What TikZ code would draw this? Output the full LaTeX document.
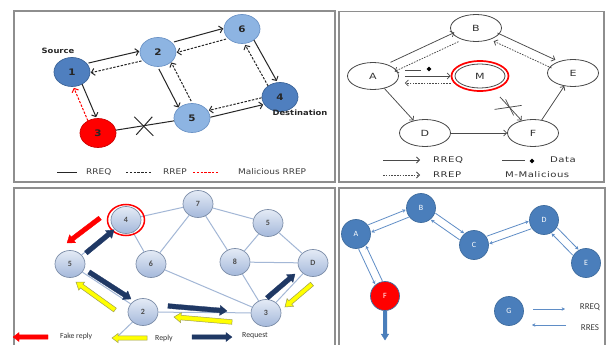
\documentclass[tikz,border=0pt]{standalone}
\usepackage{fontspec}
\usetikzlibrary{arrows.meta,calc,shapes.geometric}
\newfontfamily\tlfont[FakeStretch=1.15]{DejaVu Sans}
\newfontfamily\trfont[FakeStretch=1.3,LetterSpace=6]{DejaVu Sans}
\newfontfamily\lowfont{Carlito}

\definecolor{framegray}{HTML}{8E8E8E}
\definecolor{ink}{HTML}{262626}
\definecolor{legendtxt}{HTML}{3C3C3C}
\definecolor{nodedark}{HTML}{4F7FBF}
\definecolor{nodedarkrim}{HTML}{3A6398}
\definecolor{nodelight}{HTML}{8DB4E2}
\definecolor{nodelightrim}{HTML}{6B93C6}
\definecolor{alarm}{HTML}{FF0000}
\definecolor{trrim}{HTML}{4A4A4A}
\definecolor{trtext}{HTML}{333333}
\definecolor{ballTop}{HTML}{E4EBF6}
\definecolor{ballBot}{HTML}{A4B8DA}
\definecolor{ballrim}{HTML}{7C8DA8}
\definecolor{meshline}{HTML}{A3B7D6}
\definecolor{navy}{HTML}{1F3864}
\definecolor{replyfill}{HTML}{FFFF00}
\definecolor{replyrim}{HTML}{9E9E55}
\definecolor{steel}{HTML}{4A7EBB}
\definecolor{steelrim}{HTML}{3F6D9F}
\definecolor{steelline}{HTML}{5F8DC6}

% two parallel opposite links between nodes #3 and #4:
% #1 gap from the centre line, #2 side (90 or -90) of the forward link
\newcommand\twoway[6]{%
  \draw[#5,transform canvas={shift={($(#3)!#1!#2:(#4)-(#3)$)}}] (#3) -- (#4);
  \draw[#6,transform canvas={shift={($(#3)-(#3)!#1!#2:(#4)$)}}] (#4) -- (#3);}

% filled block arrow from coordinate #2 to coordinate #3
% #4 half shaft width, #5 half head width, #6 head length
\makeatletter
\newcommand\fatarrow[6]{%
  \pgfmathanglebetweenpoints{\pgfpointanchor{#2}{center}}{\pgfpointanchor{#3}{center}}%
  \edef\faang{\pgfmathresult}%
  \pgfpointdiff{\pgfpointanchor{#2}{center}}{\pgfpointanchor{#3}{center}}%
  \edef\fadx{\the\pgf@x}\edef\fady{\the\pgf@y}%
  \pgfmathveclen{\fadx}{\fady}%
  \edef\falen{\pgfmathresult}%
  \filldraw[#1,shift={(#2)},rotate=\faang]
    (0pt,-#4) -- (\falen pt-#6,-#4) -- (\falen pt-#6,-#5) -- (\falen pt,0pt)
    -- (\falen pt-#6,#5) -- (\falen pt-#6,#4) -- (0pt,#4) -- cycle;}
\makeatother

\tikzset{
  panel/.style={draw=framegray,line width=1.4pt},
  % upper left network
  tlnode/.style={ellipse,minimum width=36pt,minimum height=29pt,inner sep=0pt,
    line width=0.7pt,font=\tlfont\bfseries\fontsize{9}{9}\selectfont,text=black!85},
  tldarknode/.style={tlnode,fill=nodedark,draw=nodedarkrim},
  tllightnode/.style={tlnode,fill=nodelight,draw=nodelightrim},
  tlrednode/.style={tlnode,fill=alarm,draw=alarm!80!black},
  tlplain/.style={draw=ink,line width=1pt},
  tlreq/.style={tlplain,-{Straight Barb[length=3.2pt,width=7pt]}},
  tlrep/.style={tlreq,dash pattern=on 2.4pt off 1.4pt},
  tlmal/.style={tlrep,draw=alarm},
  tllabel/.style={font=\tlfont\bfseries\fontsize{7.3}{7.3}\selectfont,text=black!85,inner sep=0pt},
  tlkey/.style={font=\tlfont\fontsize{7.8}{7.8}\selectfont,text=legendtxt,inner sep=0pt,anchor=west},
  % upper right network
  trnode/.style={ellipse,minimum width=51pt,minimum height=27pt,inner sep=0pt,
    draw=trrim,fill=white,line width=0.8pt,font=\trfont\fontsize{8.5}{8.5}\selectfont,text=trtext},
  trplain/.style={draw=trrim,line width=0.75pt},
  trreq/.style={trplain,-{Straight Barb[length=3pt,width=6pt]}},
  trrep/.style={trreq,dash pattern=on 1.6pt off 1.2pt},
  trkey/.style={font=\trfont\fontsize{7.8}{7.8}\selectfont,text=trtext,inner sep=0pt,anchor=west},
  % lower left network
  ball/.style={ellipse,minimum width=30pt,minimum height=27pt,inner sep=0pt,
    top color=ballTop,bottom color=ballBot,draw=ballrim,line width=0.7pt,
    font=\lowfont\bfseries\fontsize{8}{8}\selectfont,text=black!70},
  mesh/.style={draw=meshline,line width=1pt},
  fakefat/.style={fill=alarm,draw=alarm,line width=0.3pt},
  reqfat/.style={fill=navy,draw=navy,line width=0.3pt},
  repfat/.style={fill=replyfill,draw=replyrim,line width=0.5pt},
  lowkey/.style={font=\lowfont\fontsize{7.8}{7.8}\selectfont,text=black!80,inner sep=0pt,anchor=west},
  % lower right network
  disc/.style={circle,minimum size=29pt,inner sep=0pt,fill=steel,draw=steelrim,
    line width=0.7pt,font=\lowfont\fontsize{8}{8}\selectfont,text=white},
  brlink/.style={draw=steelline,line width=0.8pt,-{Stealth[length=3.4pt,width=3.6pt]}},
  brkey/.style={font=\lowfont\fontsize{9}{9}\selectfont,text=black!75,inner sep=0pt},
}

\begin{document}
\begin{tikzpicture}[x=1pt,y=-1pt]
\useasboundingbox (0,0) rectangle (606,345);
\fill[white] (0,0) rectangle (606,345);

% frames of the four panels
\draw[panel] (14,11) rectangle (335,182);
\draw[panel] (339,11.5) rectangle (604,182);
\draw[panel] (14,188) rectangle (335,352);
\draw[panel] (339,188) rectangle (605,352);

%% ---------------- upper left: AODV with a malicious reply ----------------
\node[tldarknode]  (n1) at (72,72)   {1};
\node[tllightnode] (n2) at (158,52)  {2};
\node[tllightnode] (n6) at (242,29)  {6};
\node[tldarknode]  (n4) at (280,97)  {4};
\node[tllightnode] (n5) at (192,118) {5};
\node[tlrednode]   (n3) at (98,133)  {3};
\node[tllabel] (src) at (58,51)  {Source};
\node[tllabel] (dst) at (300,113) {Destination};

\twoway{5pt}{90}{n1}{n2}{tlreq}{tlrep}
\twoway{5.5pt}{90}{n2}{n6}{tlreq}{tlrep}
\twoway{7pt}{-90}{n2}{n5}{tlreq}{tlrep}
\twoway{5pt}{90}{n6}{n4}{tlreq}{tlrep}
\twoway{3.5pt}{-90}{n5}{n4}{tlreq}{tlrep}
\twoway{4.5pt}{90}{n1}{n3}{tlreq}{tlmal}
\draw[tlplain] (n3) -- coordinate[pos=.47] (cut) (n5);
\draw[tlplain] ($(cut)+(-9,-9)$) -- ($(cut)+(10,10)$)
               ($(cut)+(-7,9)$) -- ($(cut)+(9,-9)$);

\coordinate (k1a) at (57,172);  \coordinate (k1b) at (77,172);
\coordinate (k2a) at (126,172); \coordinate (k2b) at (152,172);
\coordinate (k3a) at (193,172); \coordinate (k3b) at (218,172);
\draw[tlplain] (k1a) -- (k1b);
\draw[tlplain,dash pattern=on 2.4pt off 1.4pt] (k2a) -- (k2b);
\draw[tlplain,draw=alarm,dash pattern=on 2.4pt off 1.4pt] (k3a) -- (k3b);
\node[tlkey] (t1) at (86,172)  {RREQ};
\node[tlkey] (t2) at (163,172) {RREP};
\node[tlkey] (t3) at (238,172) {Malicious RREP};

%% ---------------- upper right: black hole node M ----------------
\node[trnode] (tB) at (476,28)  {B};
\node[trnode] (tA) at (373,76)  {A};
\node[trnode,minimum width=50pt,minimum height=24pt] (tM) at (480,76) {M};
\node[trnode] (tE) at (573,73)  {E};
\node[trnode] (tD) at (425,133) {D};
\node[trnode] (tF) at (533,133) {F};
\draw[draw=alarm,line width=1.7pt] (tM.center) ellipse [x radius=28.5pt,y radius=15pt];

\twoway{5pt}{90}{tA}{tB}{trreq}{trrep}
\twoway{4.5pt}{90}{tB}{tE}{trreq}{trrep}
\draw[trreq] ([xshift=6pt]tA.east) -- ([xshift=-4pt]tM.west);
\draw[trrep] ([shift={(-4,7)}]tM.west) -- ([shift={(6,7)}]tA.east);
\coordinate (dat1) at (405,70); \coordinate (dat2) at (421,70);
\node[diamond,fill=black,inner sep=0pt,minimum size=5pt] (dmk) at (429,69) {};
\draw[trplain] (dat1) -- (dat2);
\draw[trreq] (tA) -- (tD);
\draw[trreq] (tD) -- (tF);
\draw[trreq] (tF) -- (tE);
\coordinate (mf) at (500,97);
\draw[trreq] (mf) -- coordinate[pos=.4] (cross) (tF);
\draw[trplain] ($(cross)+(-14,3)$) -- ($(cross)+(13,-1)$)
               ($(cross)+(-3,-7)$) -- ($(cross)+(5,9)$);

\coordinate (q1a) at (383,160); \coordinate (q1b) at (420,160);
\coordinate (q2a) at (383,175); \coordinate (q2b) at (420,175);
\coordinate (q3a) at (502,160); \coordinate (q3b) at (525,160);
\draw[trreq] (q1a) -- (q1b);
\draw[trrep] (q2a) -- (q2b);
\draw[trplain] (q3a) -- (q3b);
\node[diamond,fill=black,inner sep=0pt,minimum size=5pt] (dkey) at (532,161) {};
\node[trkey] (u1) at (433,160) {RREQ};
\node[trkey] (u2) at (433,175) {RREP};
\node[trkey] (u3) at (550,160) {Data};
\node[trkey] (u4) at (505,175) {M-Malicious};

%% ---------------- lower left: fake reply in a mesh ----------------
\node[ball] (b4)  at (126,220) {4};
\node[ball] (b7)  at (198,204) {7};
\node[ball] (b5r) at (268,223) {5};
\node[ball] (b5l) at (70,264)  {5};
\node[ball] (b6)  at (151,264) {6};
\node[ball] (b8)  at (235,262) {8};
\node[ball] (bD)  at (313,263) {D};
\node[ball] (b2)  at (143,312) {2};
\node[ball] (b3)  at (266,313) {3};
\coordinate (boff) at (118,336);
\draw[mesh] (b4) -- (b7) (b4) -- (b5l) (b4) -- (b6) (b7) -- (b6) (b7) -- (b5r)
  (b7) -- (b8) (b5r) -- (b8) (b5r) -- (bD) (b8) -- (bD) (b8) -- (b3) (b6) -- (b3)
  (b5l) -- (b2) (b2) -- (b3) (b3) -- (bD) (b2) -- (boff);
\draw[draw=alarm,line width=1.5pt] (b4.center) ellipse [x radius=18.5pt,y radius=15.5pt];

\coordinate (f1s) at (100,218); \coordinate (f1e) at (67,243);
\coordinate (r1s) at (86,253);  \coordinate (r1e) at (114,230);
\coordinate (r2s) at (89,272);  \coordinate (r2e) at (131,299);
\coordinate (y1s) at (115,310); \coordinate (y1e) at (76,282);
\coordinate (r3s) at (168,306); \coordinate (r3e) at (227,311);
\coordinate (y2s) at (232,322); \coordinate (y2e) at (174,317);
\coordinate (r4s) at (267,298); \coordinate (r4e) at (295,274);
\coordinate (y3s) at (312,284); \coordinate (y3e) at (285,307);
\fatarrow{fakefat}{f1s}{f1e}{2.3pt}{5pt}{7pt}
\fatarrow{reqfat}{r1s}{r1e}{2.4pt}{5pt}{7pt}
\fatarrow{reqfat}{r2s}{r2e}{2.4pt}{5pt}{7pt}
\fatarrow{repfat}{y1s}{y1e}{2.3pt}{5pt}{7pt}
\fatarrow{reqfat}{r3s}{r3e}{2.4pt}{5pt}{7pt}
\fatarrow{repfat}{y2s}{y2e}{2.3pt}{5pt}{7pt}
\fatarrow{reqfat}{r4s}{r4e}{2.4pt}{5pt}{7pt}
\fatarrow{repfat}{y3s}{y3e}{2.3pt}{5pt}{7pt}

\coordinate (l1s) at (48,337);  \coordinate (l1e) at (13,337);
\coordinate (l2s) at (147,338); \coordinate (l2e) at (112,338);
\coordinate (l3s) at (192,337); \coordinate (l3e) at (232,337);
\fatarrow{fakefat}{l1s}{l1e}{2.2pt}{4.5pt}{6pt}
\fatarrow{repfat}{l2s}{l2e}{2.2pt}{4.5pt}{6pt}
\fatarrow{reqfat}{l3s}{l3e}{2.2pt}{4.5pt}{6pt}
\node[lowkey] (w1) at (60,336)  {Fake reply};
\node[lowkey] (w2) at (155,338) {Reply};
\node[lowkey] (w3) at (242,336) {Request};

%% ---------------- lower right: request/response chain ----------------
\node[disc] (rA) at (356,234) {A};
\node[disc] (rB) at (421,208) {B};
\node[disc] (rC) at (474,245) {C};
\node[disc] (rD) at (544,220) {D};
\node[disc] (rE) at (586,263) {E};
\node[disc,fill=alarm] (rF) at (385,296) {F};
\node[disc] (rG) at (509,311) {G};

\twoway{4pt}{90}{rA}{rB}{brlink}{brlink}
\twoway{4pt}{90}{rB}{rC}{brlink}{brlink}
\twoway{4pt}{90}{rC}{rD}{brlink}{brlink}
\twoway{4pt}{90}{rD}{rE}{brlink}{brlink}
\twoway{4pt}{-90}{rA}{rF}{brlink}{brlink}

\coordinate (sinkS) at (385,311); \coordinate (sinkE) at (385,340);
\fatarrow{fill=steel,draw=steel}{sinkS}{sinkE}{1.8pt}{3.8pt}{6pt}

\coordinate (g1a) at (533,309); \coordinate (g1b) at (565,309);
\coordinate (g2a) at (566,325); \coordinate (g2b) at (532,325);
\draw[brlink] (g1a) -- (g1b);
\draw[brlink] (g2a) -- (g2b);
\node[brkey] (v1) at (590,307) {RREQ};
\node[brkey] (v2) at (590,328) {RRES};
\end{tikzpicture}
\end{document}
